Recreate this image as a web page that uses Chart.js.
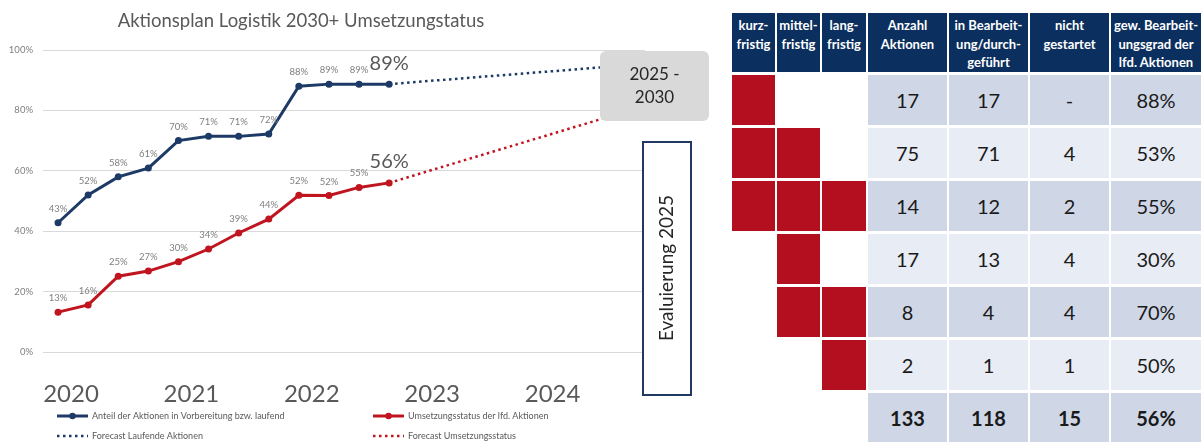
<!DOCTYPE html>
<html lang="de">
<head>
    <meta charset="UTF-8">
    <title>Aktionsplan Logistik 2030+ Umsetzungstatus</title>
    <script src="https://cdn.jsdelivr.net/npm/chart.js"></script>
    <style>
        body {
            margin: 0;
            background: #fff;
            font-family: Lato, 'Open Sans', sans-serif;
            width: 1203px;
            height: 442px;
            overflow: hidden;
            position: relative;
        }
        .chart-box {
            position: absolute;
            left: 0;
            top: 0;
            width: 720px;
            height: 442px;
        }
        table.status {
            position: absolute;
            left: 730px;
            top: 10px;
            width: 473px;
            border-collapse: separate;
            border-spacing: 2px 3px;
            table-layout: fixed;
        }
        table.status th {
            background: #0b2f5e;
            color: #fff;
            font-weight: bold;
            font-size: 13px;
            line-height: 18.5px;
            height: 59px;
            padding: 3px 0 0 0;
            box-sizing: border-box;
            vertical-align: top;
            text-align: center;
            white-space: nowrap;
        }
        table.status td {
            height: 50px;
            padding: 0;
            text-align: center;
            vertical-align: middle;
            font-size: 20px;
            color: #1a1a1a;
        }
        td.red { background: #b40f1e; }
        tr.dark td.val { background: #cfd7e7; }
        tr.light td.val { background: #e8ecf4; }
        tr.total td { font-weight: bold; }
    </style>
</head>
<body>
    <div class="chart-box"><canvas id="chartStatus"></canvas></div>
    <table class="status" id="statusTable">
        <colgroup>
            <col style="width:43px"><col style="width:43px"><col style="width:44px">
            <col style="width:79px"><col style="width:79px"><col style="width:79px"><col style="width:90px">
        </colgroup>
        <thead><tr id="headRow"></tr></thead>
        <tbody id="tableBody"></tbody>
    </table>

    <script>
        // Liniendiagramm (Quartalswerte)
        const quarters = [0, 1, 2, 3, 4, 5, 6, 7, 8, 9, 10, 11];
        const laufend = [42.8, 52.0, 58.0, 60.9, 70.0, 71.4, 71.4, 72.2, 88.0, 88.7, 88.7, 88.7];
        const umsetzung = [13.2, 15.6, 25.1, 26.8, 29.9, 34.1, 39.4, 44.0, 51.9, 51.8, 54.5, 56.0];
        const forecastX = [11, 19];
        const forecastLaufend = [88.7, 95.0];
        const forecastUmsetzung = [56.0, 80.0];
        const yearLabels = ['2020', '2021', '2022', '2023', '2024'];
        const yTicks = [0, 20, 40, 60, 80, 100];

        // Tabelle
        const headers = ['kurz-<br>fristig', 'mittel-<br>fristig', 'lang-<br>fristig', 'Anzahl<br>Aktionen',
            'in Bearbeit-<br>ung/durch-<br>geführt', 'nicht<br>gestartet', 'gew. Bearbeit-<br>ungsgrad der<br>lfd. Aktionen'];
        const fristen = [[1, 0, 0], [1, 1, 0], [1, 1, 1], [0, 1, 0], [0, 1, 1], [0, 0, 1]];
        const anzahl = [17, 75, 14, 17, 8, 2];
        const inBearbeitung = [17, 71, 12, 13, 4, 1];
        const nichtGestartet = ['-', 4, 2, 4, 4, 1];
        const bearbeitungsgrad = ['88%', '53%', '55%', '30%', '70%', '50%'];
        const summe = [133, 118, 15, '56%'];

        const BLUE = '#1d3a66';
        const RED = '#c0141f';

        document.getElementById('headRow').innerHTML = headers.map(h => `<th>${h}</th>`).join('');
        let rows = '';
        anzahl.forEach((n, i) => {
            const cls = i % 2 === 0 ? 'dark' : 'light';
            rows += `<tr class="${cls}">`;
            fristen[i].forEach(f => { rows += `<td class="${f ? 'red' : ''}"></td>`; });
            rows += `<td class="val">${n}</td><td class="val">${inBearbeitung[i]}</td>`;
            rows += `<td class="val">${nichtGestartet[i]}</td><td class="val">${bearbeitungsgrad[i]}</td></tr>`;
        });
        rows += '<tr class="dark total"><td></td><td></td><td></td>' + summe.map(s => `<td class="val">${s}</td>`).join('') + '</tr>';
        document.getElementById('tableBody').innerHTML = rows;

        const overlay = {
            id: 'overlay',
            afterDatasetsDraw(chart) {
                const c = chart.ctx;
                c.save();
                c.textAlign = 'center';
                c.textBaseline = 'middle';
                [0, 1].forEach(di => {
                    const meta = chart.getDatasetMeta(di);
                    const vals = chart.data.datasets[di].data;
                    meta.data.forEach((pt, i) => {
                        const txt = Math.round(vals[i].y) + '%';
                        if (i === meta.data.length - 1) {
                            c.font = '20px Lato';
                            c.fillStyle = '#595959';
                            c.fillText(txt, pt.x, pt.y - 21);
                        } else {
                            c.font = '9.5px Lato';
                            c.fillStyle = '#7f7f7f';
                            c.fillText(txt, pt.x, pt.y - 14);
                        }
                    });
                });

                // Kasten 2025 - 2030
                c.fillStyle = '#d9d9d9';
                c.beginPath();
                c.roundRect(600, 51, 109, 70, 6);
                c.fill();
                c.fillStyle = '#262626';
                c.font = '17px Lato';
                c.fillText('2025 -', 654.5, 75);
                c.fillText('2030', 654.5, 98);

                // Evaluierung 2025
                c.fillStyle = '#fff';
                c.fillRect(643, 142, 48, 253);
                c.strokeStyle = '#1f3864';
                c.lineWidth = 2;
                c.strokeRect(643, 142, 48, 253);
                c.save();
                c.translate(667, 268);
                c.rotate(-Math.PI / 2);
                c.fillStyle = '#262626';
                c.font = '19px Lato';
                c.fillText('Evaluierung 2025', 0, 0);
                c.restore();

                // Titel
                c.fillStyle = '#595959';
                c.font = '18.5px Lato';
                c.fillText('Aktionsplan Logistik 2030+ Umsetzungstatus', 301, 21);

                // Legende
                const pos = [[57, 416], [373, 416], [57, 436], [373, 436]];
                chart.data.datasets.forEach((ds, i) => {
                    const [x, y] = pos[i];
                    c.strokeStyle = ds.borderColor;
                    c.lineWidth = ds.borderWidth;
                    c.setLineDash(ds.borderDash || []);
                    c.beginPath();
                    c.moveTo(x, y);
                    c.lineTo(x + 31, y);
                    c.stroke();
                    c.setLineDash([]);
                    if (ds.pointRadius > 0) {
                        c.fillStyle = ds.borderColor;
                        c.beginPath();
                        c.arc(x + 15.5, y, 3.2, 0, Math.PI * 2);
                        c.fill();
                    }
                    c.fillStyle = '#595959';
                    c.font = '9px Lato';
                    c.textAlign = 'left';
                    c.fillText(ds.label, x + 35, y);
                });
                c.restore();
            }
        };

        new Chart(document.getElementById('chartStatus').getContext('2d'), {
            type: 'line',
            data: {
                datasets: [
                    {
                        label: 'Anteil der Aktionen in Vorbereitung bzw. laufend',
                        data: quarters.map((q, i) => ({ x: q, y: laufend[i] })),
                        borderColor: BLUE, backgroundColor: BLUE,
                        borderWidth: 3, pointRadius: 3.5, pointBorderWidth: 0, tension: 0
                    },
                    {
                        label: 'Umsetzungsstatus der lfd. Aktionen',
                        data: quarters.map((q, i) => ({ x: q, y: umsetzung[i] })),
                        borderColor: RED, backgroundColor: RED,
                        borderWidth: 3, pointRadius: 3.5, pointBorderWidth: 0, tension: 0
                    },
                    {
                        label: 'Forecast Laufende Aktionen',
                        data: forecastX.map((q, i) => ({ x: q, y: forecastLaufend[i] })),
                        borderColor: BLUE, borderWidth: 2.5, borderDash: [2.5, 3.5], pointRadius: 0
                    },
                    {
                        label: 'Forecast Umsetzungsstatus',
                        data: forecastX.map((q, i) => ({ x: q, y: forecastUmsetzung[i] })),
                        borderColor: RED, borderWidth: 2.5, borderDash: [2.5, 3.5], pointRadius: 0
                    }
                ]
            },
            options: {
                responsive: true,
                maintainAspectRatio: false,
                animation: false,
                layout: { padding: { top: 50, right: 75, left: 0, bottom: 0 } },
                plugins: { legend: { display: false }, tooltip: { enabled: false } },
                scales: {
                    x: {
                        type: 'linear', min: -0.5, max: 19.5,
                        grid: { display: false }, border: { display: false },
                        afterBuildTicks: s => { s.ticks = yearLabels.map((_, k) => ({ value: 4 * k + 0.43 })); },
                        ticks: {
                            autoSkip: false, maxRotation: 0, padding: 20, color: '#595959',
                            font: { family: 'Lato', size: 24 },
                            callback: (v, i) => yearLabels[i]
                        },
                        afterFit: s => { s.height = 90; }
                    },
                    y: {
                        min: 0, max: 100,
                        afterBuildTicks: s => { s.ticks = yTicks.map(v => ({ value: v })); },
                        grid: { color: '#d9d9d9', lineWidth: 1, drawTicks: false }, border: { display: false },
                        ticks: { padding: 10, color: '#7f7f7f', font: { family: 'Lato', size: 9.5 }, callback: v => v + '%' },
                        afterFit: s => { s.width = 43; }
                    }
                }
            },
            plugins: [overlay]
        });
    </script>
</body>
</html>
